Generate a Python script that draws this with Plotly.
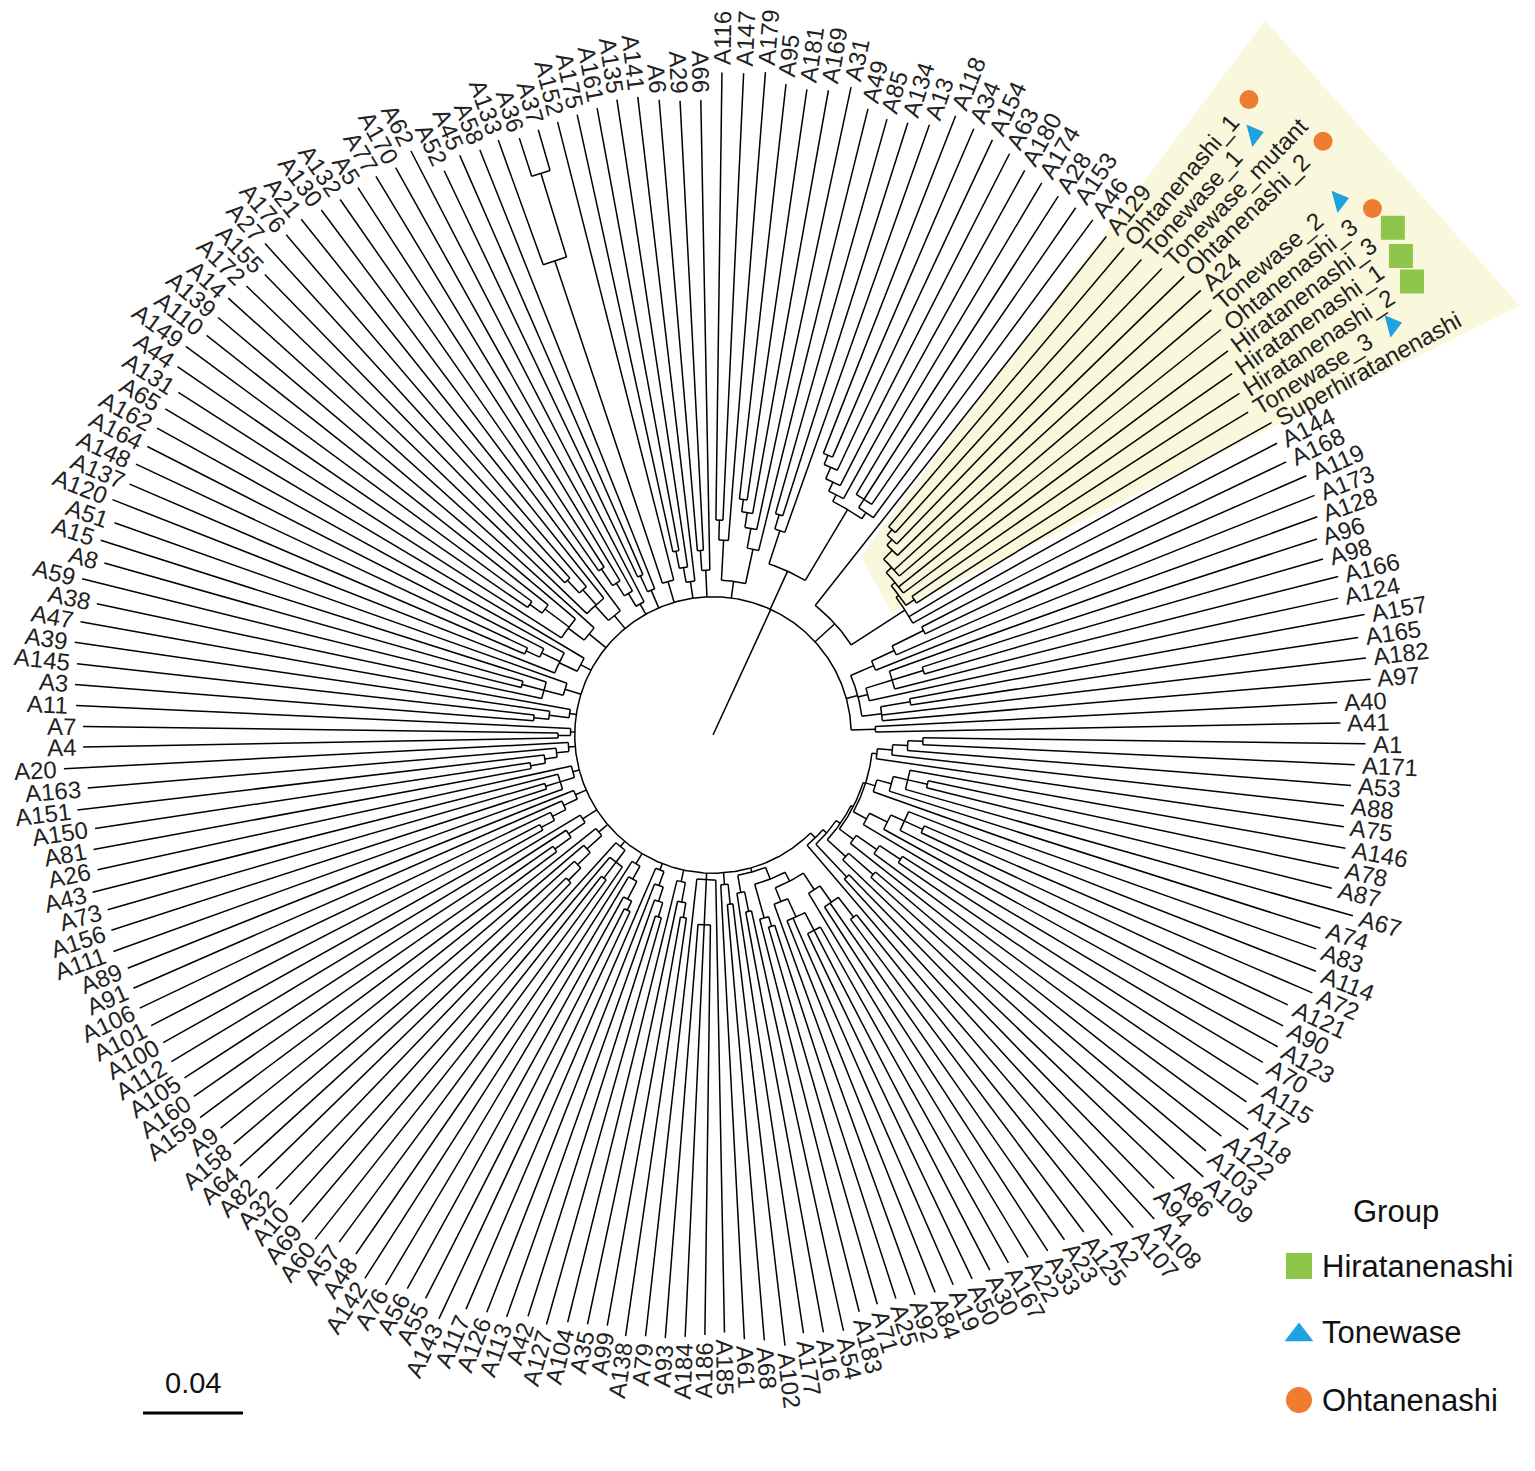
import numpy as np
import plotly.graph_objects as go

## Leaves, counter-clockwise from the right (A41 first)
LEAVES = [
    "A41", "A40", "A97", "A182", "A165", "A157", "A124", "A166", "A98", "A96",
    "A128", "A173", "A119", "A168", "A144", "Superhiratanenashi", "Tonewase_3", "Hiratanenashi_2", "Hiratanenashi_1", "Hiratanenashi_3",
    "Ohtanenashi_3", "Tonewase_2", "A24", "Ohtanenashi_2", "Tonewase_mutant", "Tonewase_1", "Ohtanenashi_1", "A129", "A46", "A153",
    "A28", "A174", "A180", "A63", "A154", "A34", "A118", "A13", "A134", "A85",
    "A49", "A31", "A169", "A181", "A95", "A179", "A147", "A116", "A66", "A29",
    "A6", "A141", "A135", "A161", "A175", "A152", "A37", "A36", "A133", "A58",
    "A45", "A52", "A62", "A170", "A77", "A5", "A132", "A130", "A21", "A176",
    "A27", "A155", "A172", "A14", "A139", "A110", "A149", "A44", "A131", "A65",
    "A162", "A164", "A148", "A137", "A120", "A51", "A15", "A8", "A59", "A38",
    "A47", "A39", "A145", "A3", "A11", "A7", "A4", "A20", "A163", "A151",
    "A150", "A81", "A26", "A43", "A73", "A156", "A111", "A89", "A91", "A106",
    "A101", "A100", "A112", "A105", "A160", "A159", "A9", "A158", "A64", "A82",
    "A32", "A10", "A69", "A60", "A57", "A48", "A142", "A76", "A56", "A55",
    "A143", "A117", "A126", "A113", "A42", "A127", "A104", "A35", "A99", "A138",
    "A79", "A93", "A184", "A186", "A185", "A61", "A68", "A102", "A177", "A16",
    "A54", "A183", "A71", "A25", "A92", "A84", "A19", "A50", "A30", "A167",
    "A22", "A33", "A23", "A125", "A2", "A107", "A108", "A94", "A86", "A109",
    "A103", "A122", "A18", "A17", "A115", "A70", "A123", "A90", "A121", "A72",
    "A114", "A83", "A74", "A67", "A87", "A78", "A146", "A75", "A88", "A53",
    "A171", "A1",
]

# distance root -> leaf tip (substitutions / site)
TIPS = [
    .251, .250, .264, .263, .261, .265, .256, .258, .254, .254,
    .257, .259, .259, .254, .254, .256, .250, .251, .253, .257,
    .260, .262, .264, .263, .259, .256, .255, .254, .256, .256,
    .256, .257, .258, .261, .263, .264, .266, .259, .257, .256,
    .258, .265, .262, .261, .262, .266, .265, .265, .254, .254,
    .255, .257, .257, .255, .254, .253, .252, .251, .253, .252,
    .253, .250, .263, .260, .261, .261, .261, .262, .264, .263,
    .266, .257, .259, .261, .259, .258, .262, .260, .254, .255,
    .254, .254, .255, .254, .258, .254, .257, .253, .260, .252,
    .257, .258, .256, .256, .255, .252, .252, .260, .251, .256,
    .250, .252, .252, .256, .252, .253, .255, .252, .253, .254,
    .253, .252, .253, .252, .253, .256, .252, .252, .256, .254,
    .252, .253, .255, .257, .252, .252, .258, .256, .253, .253,
    .258, .250, .248, .247, .244, .245, .242, .241, .240, .243,
    .242, .242, .241, .240, .239, .242, .243, .246, .242, .243,
    .244, .238, .237, .237, .238, .240, .240, .241, .241, .242,
    .244, .246, .246, .248, .256, .259, .262, .253, .256, .264,
    .258, .259, .266, .259, .259, .256, .258, .256, .254, .261,
    .259, .256, .255, .266, .255, .256, .257, .255, .254, .256,
    .257, .261,
]

# internal nodes: (first leaf index, last leaf index, node depth)
CLADES = [
    (0, 191, 0.0553),
    (0, 1, 0.065),
    (2, 14, 0.060), (2, 5, 0.068), (4, 5, 0.080),
    (6, 10, 0.064), (7, 10, 0.075), (8, 9, 0.088),
    (11, 14, 0.070), (12, 14, 0.080), (13, 14, 0.094),
    (15, 27, 0.066),
    (15, 26, 0.0916), (17, 26, 0.093), (17, 18, 0.097), (19, 26, 0.095), (21, 26, 0.098),
    (23, 26, 0.103), (24, 26, 0.106), (25, 26, 0.109),
    (28, 39, 0.072), (28, 36, 0.105), (28, 31, 0.108), (29, 31, 0.112), (32, 36, 0.108),
    (33, 36, 0.112), (34, 36, 0.117), (35, 36, 0.121), (37, 39, 0.086), (38, 39, 0.092),
    (40, 47, 0.062), (40, 44, 0.076), (41, 44, 0.084), (42, 44, 0.090), (43, 44, 0.095),
    (45, 47, 0.078), (46, 47, 0.086),
    (48, 50, 0.066), (49, 50, 0.074),
    (51, 54, 0.062), (52, 54, 0.068), (53, 54, 0.075),
    (55, 58, 0.064), (56, 58, 0.200), (56, 57, 0.235),
    (59, 61, 0.063), (60, 61, 0.070),
    (62, 66, 0.060), (63, 66, 0.066), (64, 66, 0.072), (65, 66, 0.080),
    (67, 72, 0.062), (68, 72, 0.070), (69, 71, 0.078), (70, 71, 0.085),
    (73, 78, 0.064), (74, 78, 0.072), (75, 77, 0.084), (76, 77, 0.090),
    (79, 84, 0.060), (80, 84, 0.068), (81, 83, 0.076), (82, 83, 0.082),
    (85, 89, 0.062), (86, 89, 0.070), (87, 88, 0.079),
    (90, 93, 0.058), (91, 93, 0.066), (92, 93, 0.072),
    (94, 96, 0.057), (95, 96, 0.062),
    (97, 101, 0.058), (98, 101, 0.063), (99, 101, 0.068), (100, 101, 0.074),
    (102, 106, 0.058), (103, 106, 0.064), (104, 105, 0.070),
    (107, 111, 0.060), (108, 111, 0.066), (109, 111, 0.072), (110, 111, 0.078),
    (112, 115, 0.062), (113, 115, 0.070), (114, 115, 0.078),
    (116, 120, 0.060), (117, 120, 0.068), (118, 120, 0.075), (119, 120, 0.082),
    (121, 125, 0.058), (122, 125, 0.064), (123, 124, 0.072),
    (126, 130, 0.060), (127, 130, 0.066), (128, 130, 0.074), (129, 130, 0.078),
    (131, 135, 0.058), (132, 135, 0.064), (133, 135, 0.070), (134, 135, 0.076),
    (136, 139, 0.060), (137, 139, 0.068), (138, 139, 0.074),
    (140, 144, 0.058), (141, 143, 0.076),
    (145, 147, 0.060), (146, 147, 0.068),
    (148, 164, 0.057), (148, 150, 0.064), (149, 150, 0.072), (151, 164, 0.062),
    (151, 153, 0.076), (152, 153, 0.080), (154, 164, 0.066), (154, 159, 0.072),
    (155, 159, 0.080), (157, 159, 0.088), (160, 164, 0.074), (161, 164, 0.082), (163, 164, 0.092),
    (165, 191, 0.058), (166, 191, 0.060), (166, 167, 0.078), (168, 191, 0.062),
    (168, 170, 0.072), (169, 170, 0.085), (171, 191, 0.063), (171, 174, 0.070),
    (172, 174, 0.080), (173, 174, 0.090), (175, 191, 0.064), (175, 180, 0.070),
    (176, 180, 0.078), (177, 180, 0.084), (178, 179, 0.092), (181, 186, 0.068),
    (182, 186, 0.074), (183, 186, 0.080), (184, 185, 0.088), (187, 191, 0.066),
    (188, 191, 0.072), (189, 191, 0.078), (190, 191, 0.084),
]

ROOT_STEM_ANGLE = 65.3   # degrees
FIRST_ANGLE = 1.1        # angle of first leaf
SCALE_LEN = 0.04

GROUPS = ["Hiratanenashi", "Tonewase", "Ohtanenashi"]
GROUP_COLORS = ["#8DC64B", "#1FA3E0", "#EE7D30"]
TREE_SYMBOLS = ["square", "triangle-right", "circle"]
TREE_SIZES = [24, 20, 19]
LEGEND_SYMBOLS = ["square", "triangle-up", "circle"]

# highlighted clade (polar corners: radius, angle)
HL_R = [0.0924, 0.3612, 0.3656, 0.0868]
HL_A = [50.4, 52.3, 28.0, 34.1]

PX = 2500.0          # pixels per tree unit
FONT = "Liberation Sans, Arial, sans-serif"
LABEL_SIZE = 24

## geometry
n = len(LEAVES)
step = 360.0 / n
leaf_ang = FIRST_ANGLE + step * np.arange(n)
tips = np.array(TIPS)


def parent_of(lo, hi, self_k=None):
    best = None
    for k, (a, b, d) in enumerate(CLADES):
        if k == self_k:
            continue
        if a <= lo and hi <= b:
            if best is None or (b - a) < (CLADES[best][1] - CLADES[best][0]):
                best = k
    return best


leaf_parent = [parent_of(i, i) for i in range(n)]
clade_parent = [parent_of(a, b, k) for k, (a, b, d) in enumerate(CLADES)]

order = sorted(range(len(CLADES)), key=lambda k: CLADES[k][1] - CLADES[k][0])
node_ang, span = {}, {}
for k in order:
    kids = [leaf_ang[i] for i in range(n) if leaf_parent[i] == k]
    kids += [node_ang[j] for j in range(len(CLADES)) if clade_parent[j] == k]
    span[k] = (min(kids), max(kids))
    node_ang[k] = (span[k][0] + span[k][1]) / 2

xs, ys = [], []


def radial(a, r0, r1):
    t = np.radians(a)
    xs.extend([r0 * np.cos(t), r1 * np.cos(t), None])
    ys.extend([r0 * np.sin(t), r1 * np.sin(t), None])


def arc(r, a0, a1):
    m = max(2, int(abs(a1 - a0) / 0.4) + 2)
    t = np.radians(np.linspace(a0, a1, m))
    xs.extend(list(r * np.cos(t)) + [None])
    ys.extend(list(r * np.sin(t)) + [None])


for k, (a, b, d) in enumerate(CLADES):
    arc(d, span[k][0], span[k][1])
    p = clade_parent[k]
    if p is None:
        radial(ROOT_STEM_ANGLE, 0, d)
    else:
        radial(node_ang[k], CLADES[p][2], d)

for i in range(n):
    radial(leaf_ang[i], CLADES[leaf_parent[i]][2], tips[i])

## text width (Arial metrics, em)
EM = {"A": .667, "O": .778, "H": .722, "T": .611, "S": .667, "h": .556, "t": .278,
      "a": .556, "n": .556, "e": .556, "s": .5, "i": .222, "_": .556, "w": .722,
      "r": .333, "u": .556, "m": .833, "p": .556, "o": .556}


def text_px(s, size):
    return sum(EM.get(c, .556) for c in s) * size


fig = go.Figure()

# yellow highlight behind the clade
hl_t = np.radians(HL_A)
hl_x = np.array(HL_R) * np.cos(hl_t)
hl_y = np.array(HL_R) * np.sin(hl_t)
path = "M " + " L ".join(f"{x:.5f},{y:.5f}" for x, y in zip(hl_x, hl_y)) + " Z"
fig.add_shape(type="path", path=path, xref="x", yref="y", fillcolor="#FAF8DC",
              line=dict(width=0), layer="below")

fig.add_trace(go.Scatter(x=xs, y=ys, mode="lines", line=dict(color="#000000", width=1.5),
                         hoverinfo="skip", showlegend=False))

GAP = 7
annotations = []
mk = {g: ([], []) for g in GROUPS}
for i, name in enumerate(LEAVES):
    a = leaf_ang[i]
    w = text_px(name, LABEL_SIZE)
    rc = tips[i] + (GAP + w / 2) / PX
    t = np.radians(a)
    am = a % 360
    tang = -am if (am < 90 or am > 270) else 180 - am
    annotations.append(dict(x=rc * np.cos(t), y=rc * np.sin(t), xref="x", yref="y",
                            text=name, showarrow=False, textangle=tang,
                            xanchor="center", yanchor="middle",
                            font=dict(family=FONT, size=LABEL_SIZE, color="#222222")))
    parts = name.split("_")
    if len(parts) == 2 and parts[0] in GROUPS and parts[1].isdigit():
        rm = tips[i] + (GAP + w + 24) / PX
        mk[parts[0]][0].append(rm * np.cos(t))
        mk[parts[0]][1].append(rm * np.sin(t))

for g, col, sym, sz in zip(GROUPS, GROUP_COLORS, TREE_SYMBOLS, TREE_SIZES):
    fig.add_trace(go.Scatter(x=mk[g][0], y=mk[g][1], mode="markers",
                             marker=dict(symbol=sym, size=sz, color=col, angle=-15 if "triangle" in sym else 0,
                                         line=dict(width=0)),
                             hoverinfo="skip", showlegend=False))

# scale bar
sb_x0, sb_y = -0.228, -0.2712
fig.add_trace(go.Scatter(x=[sb_x0, sb_x0 + SCALE_LEN], y=[sb_y, sb_y], mode="lines",
                         line=dict(color="#000000", width=3), hoverinfo="skip", showlegend=False))
annotations.append(dict(x=sb_x0 + SCALE_LEN / 2, y=sb_y + 0.0122, xref="x", yref="y",
                        text=str(SCALE_LEN), showarrow=False, xanchor="center", yanchor="middle",
                        font=dict(family=FONT, size=29, color="#111111")))

# legend drawn in pixel space (overlay axes)
leg_y = [1266, 1332, 1400]
for g, col, sym, yy in zip(GROUPS, GROUP_COLORS, LEGEND_SYMBOLS, leg_y):
    fig.add_trace(go.Scatter(x=[1299], y=[yy + (3 if sym == "triangle-up" else 0)], xaxis="x2", yaxis="y2",
                             mode="markers",
                             marker=dict(symbol=sym, size=26 if sym != "triangle-up" else 25, color=col,
                                         line=dict(width=0)),
                             hoverinfo="skip", showlegend=False))
    annotations.append(dict(x=1320, y=yy, xref="x2", yref="y2", text=g, showarrow=False,
                            xanchor="left", yanchor="middle",
                            font=dict(family=FONT, size=31, color="#111111")))
annotations.append(dict(x=1396, y=1211, xref="x2", yref="y2", text="Group", showarrow=False,
                        xanchor="center", yanchor="middle",
                        font=dict(family=FONT, size=31, color="#111111")))

W, H = 1535, 1471
cx, cy = 713, 735
fig.update_layout(
    width=W, height=H,
    margin=dict(l=0, r=0, t=0, b=0),
    paper_bgcolor="white", plot_bgcolor="white",
    xaxis=dict(range=[-cx / PX, (W - cx) / PX], visible=False, showgrid=False, zeroline=False),
    yaxis=dict(range=[(cy - H) / PX, cy / PX], visible=False, showgrid=False, zeroline=False),
    xaxis2=dict(range=[0, W], overlaying="x", anchor="y2", visible=False),
    yaxis2=dict(range=[H, 0], overlaying="y", anchor="x2", visible=False),
    annotations=annotations,
    showlegend=False,
)

# page body margin would shift the figure by 8px
fig.write_html("out.html", config={"displayModeBar": False},
               post_script="document.body.style.margin='0';")
